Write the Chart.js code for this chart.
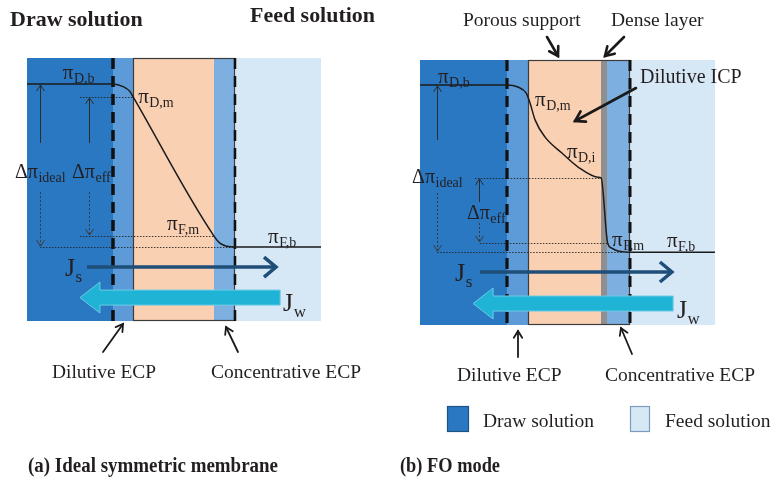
<!DOCTYPE html>
<html>
<head>
<meta charset="utf-8">
<script src="https://cdn.jsdelivr.net/npm/chart.js@4.4.1/dist/chart.umd.min.js"></script>
<style>
  html, body { margin: 0; padding: 0; background: #ffffff; }
  #wrap { position: relative; width: 777px; height: 488px; overflow: hidden; }
  #wrap canvas { position: absolute; top: 0; }
</style>
</head>
<body>
<div id="wrap">
  <canvas id="panelA" width="390" height="488" style="left:0px"></canvas>
  <canvas id="panelB" width="387" height="488" style="left:390px"></canvas>
</div>
<script>
// Position across the cell runs 0..100 (draw side -> feed side),
// osmotic pressure runs 0..100 (arbitrary units).

// ---------- (a) Ideal symmetric membrane ----------
const zonesA = ['draw', 'dilutiveECP', 'membrane', 'concentrativeECP', 'feed'];
const edgesA = [0, 29.3, 36.1, 63.6, 70.7, 100];
const piDbA = 90.1, piDmA = 85.2, piFmA = 32.3, piFbA = 28.1;
const profileXA = [0, 29.3, 32.7, 35.0, 36.1, 63.6, 65.6, 68.0, 70.7, 100];
const profileYA = [piDbA, piDbA, 89.1, 87.3, piDmA, piFmA, 29.6, 28.4, piFbA, piFbA];

// ---------- (b) FO mode (porous support facing the draw solution) ----------
const zonesB = ['draw', 'dilutiveECP', 'support', 'dense', 'concentrativeECP', 'feed'];
const edgesB = [0, 29.5, 36.6, 61.4, 63.4, 71.2, 100];
const piDbB = 90.6, piDmB = 83.8, piDiB = 55.5, piFmB = 31.0, piFbB = 27.5;
const profileXB = [0, 29.5, 33.2, 36.0, 37.3, 39.0, 42.4, 48.1, 53.6, 60.3, 61.4, 63.6, 65.0, 67.1, 70.5, 100];
const profileYB = [piDbB, piDbB, 89.8, 87.5, piDmB, 77.4, 70.9, 64.9, 59.6, 55.8, piDiB, piFmB, 29.0, 27.9, piFbB, piFbB];

// ---------- styling ----------
const SERIF = '"Liberation Serif", "Times New Roman", Times, serif';
const INK = '#231f20';
const COLORS = {
  draw: '#2a78c2',
  dilutiveECP: '#5c9bd8',
  membrane: '#fad0b3',
  support: '#fad0b3',
  dense: '#8f8f8f',
  concentrativeECP: '#7db0e0',
  feed: '#d6e7f5'
};

// ---------- drawing helpers ----------
function line(ctx, x0, y0, x1, y1) {
  ctx.beginPath(); ctx.moveTo(x0, y0); ctx.lineTo(x1, y1); ctx.stroke();
}

function arrow(ctx, x0, y0, x1, y1, head, width, color) {
  const a = Math.atan2(y1 - y0, x1 - x0);
  ctx.save();
  ctx.strokeStyle = color; ctx.lineWidth = width; ctx.lineCap = 'round'; ctx.lineJoin = 'miter';
  ctx.setLineDash([]);
  line(ctx, x0, y0, x1, y1);
  ctx.beginPath();
  ctx.moveTo(x1 - head * Math.cos(a - 0.55), y1 - head * Math.sin(a - 0.55));
  ctx.lineTo(x1, y1);
  ctx.lineTo(x1 - head * Math.cos(a + 0.55), y1 - head * Math.sin(a + 0.55));
  ctx.stroke();
  ctx.restore();
}

function subLabel(ctx, x, y, main, sub, size, subSize, drop) {
  ctx.save();
  ctx.fillStyle = INK; ctx.textBaseline = 'alphabetic'; ctx.textAlign = 'left';
  ctx.font = size + 'px ' + SERIF;
  ctx.fillText(main, x, y);
  const w = ctx.measureText(main).width;
  ctx.font = subSize + 'px ' + SERIF;
  ctx.fillText(sub, x + w + 0.5, y + drop);
  ctx.restore();
}

function text(ctx, t) {
  ctx.save();
  ctx.fillStyle = INK; ctx.textBaseline = 'alphabetic'; ctx.textAlign = 'left';
  ctx.font = t.font + ' ' + SERIF;
  ctx.fillText(t.t, t.x, t.y, t.maxW);
  ctx.restore();
}

// vertical double arrow split around its label
function gapArrow(ctx, x, yTop, yBot, gTop, gBot) {
  ctx.save();
  ctx.lineWidth = 1;
  ctx.strokeStyle = '#2b2b2b';
  ctx.setLineDash([]);
  line(ctx, x, yTop + 1, x, gTop);
  ctx.beginPath(); ctx.moveTo(x - 4, yTop + 7); ctx.lineTo(x, yTop + 1); ctx.lineTo(x + 4, yTop + 7); ctx.stroke();
  ctx.strokeStyle = '#3a3a3a';
  ctx.setLineDash([2, 2]);
  line(ctx, x, gBot, x, yBot - 1);
  ctx.setLineDash([]);
  ctx.beginPath(); ctx.moveTo(x - 4, yBot - 7); ctx.lineTo(x, yBot - 1); ctx.lineTo(x + 4, yBot - 7); ctx.stroke();
  ctx.restore();
}

// ---------- panel layouts ----------
const layoutA = {
  name: 'A',
  zones: zonesA, edges: edgesA,
  padding: { left: 27, right: 69, top: 58, bottom: 167 },
  membrane: [2, 4],
  dashed: [{ edge: 1, width: 3.5 }, { edge: 4, width: 2.5 }],
  guides: [
    { level: piDmA, from: 18.0, to: edgesA[2] },
    { level: piFmA, from: 18.0, to: edgesA[3] },
    { level: piFbA, from: 4.4, to: edgesA[4] }
  ],
  deltas: [
    { x: 4.4, top: piDbA, bottom: piFbA, gap: [67.7, 49.0], sub: 'ideal', lx: -4.1, ly: 54.4 },
    { x: 21.1, top: piDmA, bottom: piFmA, gap: [67.7, 49.0], sub: 'eff', lx: 15.3, ly: 54.4 }
  ],
  piLabels: [
    { sub: 'D,b', u: 12.2, v: 92.0 },
    { sub: 'D,m', u: 37.8, v: 82.9 },
    { sub: 'F,m', u: 47.6, v: 34.6 },
    { sub: 'F,b', u: 82.0, v: 29.7 }
  ],
  js: { from: 20.4, to: 84.7, v: 20.5, lu: 12.9, lv: 17.1 },
  jw: { tip: 18.0, end: 86.1, v: 8.9, lu: 87.1, lv: 3.8 },
  texts: [
    { t: 'Draw solution', x: 10, y: 26, font: 'bold 22px', maxW: 133 },
    { t: 'Feed solution', x: 250, y: 22, font: 'bold 22px', maxW: 125 },
    { t: 'Dilutive ECP', x: 52, y: 378, font: '19.5px', maxW: 104 },
    { t: 'Concentrative ECP', x: 211, y: 378, font: '19.5px', maxW: 150 },
    { t: '(a) Ideal symmetric membrane', x: 28, y: 472, font: 'bold 20px', maxW: 250 }
  ],
  arrows: [
    { x0: 103, y0: 352, x1: 123, y1: 324, head: 8, w: 1.8 },
    { x0: 238, y0: 352, x1: 226, y1: 327, head: 8, w: 1.8 }
  ],
  legend: null
};

const layoutB = {
  name: 'B',
  zones: zonesB, edges: edgesB,
  padding: { left: 30, right: 62, top: 60, bottom: 163 },
  membrane: [2, 5],
  dashed: [{ edge: 1, width: 3.2 }, { edge: 5, width: 3.0 }],
  guides: [
    { level: piDiB, from: 18.6, to: edgesB[3] },
    { level: piFmB, from: 20.3, to: edgesB[4] },
    { level: piFbB, from: 5.8, to: 68.8 }
  ],
  deltas: [
    { x: 5.8, top: piDbB, bottom: piFbB, gap: [69.8, 49.8], sub: 'ideal', lx: -2.7, ly: 53.6 },
    { x: 20.0, top: piDiB, bottom: piFmB, gap: [46.4, 38.5], sub: 'eff', lx: 15.9, ly: 40.0 }
  ],
  piLabels: [
    { sub: 'D,b', u: 6.1, v: 91.3 },
    { sub: 'D,m', u: 39.0, v: 82.6 },
    { sub: 'D,i', u: 49.8, v: 63.0 },
    { sub: 'F,m', u: 65.1, v: 29.8 },
    { sub: 'F,b', u: 83.7, v: 29.4 }
  ],
  js: { from: 20.3, to: 85.4, v: 20.0, lu: 11.9, lv: 16.6 },
  jw: { tip: 18.0, end: 85.8, v: 8.1, lu: 87.1, lv: 2.6 },
  texts: [
    { t: 'Porous support', x: 73, y: 26, font: '19.5px', maxW: 121 },
    { t: 'Dense layer', x: 221, y: 26, font: '19.5px', maxW: 93 },
    { t: 'Dilutive ICP', x: 250, y: 83, font: '20px', maxW: 113 },
    { t: 'Dilutive ECP', x: 67, y: 381, font: '19.5px', maxW: 106 },
    { t: 'Concentrative ECP', x: 215, y: 381, font: '19.5px', maxW: 150 },
    { t: '(b) FO mode', x: 10, y: 472, font: 'bold 20px', maxW: 100 }
  ],
  arrows: [
    { x0: 157, y0: 37, x1: 168, y1: 56, head: 10, w: 2.6 },
    { x0: 234, y0: 37, x1: 215, y1: 56, head: 10, w: 2.6 },
    { x0: 246, y0: 88, x1: 185, y1: 121, head: 11, w: 2.6 },
    { x0: 128, y0: 357, x1: 128, y1: 331, head: 8, w: 1.8 },
    { x0: 242, y0: 354, x1: 231, y1: 328, head: 8, w: 1.8 }
  ],
  legend: [
    { zone: 'draw', label: 'Draw solution', bx: 57, by: 406, bw: 22, bh: 26, edge: '#1d5486', tx: 93, ty: 427 },
    { zone: 'feed', label: 'Feed solution', bx: 240, by: 406, bw: 20, bh: 26, edge: '#7e9cbb', tx: 275, ty: 427 }
  ]
};

// ---------- plugin that paints the cell schematic around the profile ----------
function schematic(L) {
  return {
    id: 'schematic' + L.name,
    beforeDatasetsDraw(chart) {
      const { ctx, chartArea: { top, bottom }, scales: { x, y } } = chart;
      const X = u => x.getPixelForValue(u);
      const Y = v => y.getPixelForValue(v);
      ctx.save();
      // solution / boundary-layer / membrane zones
      L.zones.forEach((z, i) => {
        const x0 = Math.round(X(L.edges[i])), x1 = Math.round(X(L.edges[i + 1]));
        ctx.fillStyle = COLORS[z];
        ctx.fillRect(x0, top, x1 - x0, bottom - top);
      });
      // membrane outline
      const m0 = Math.round(X(L.edges[L.membrane[0]])) + 0.5;
      const m1 = Math.round(X(L.edges[L.membrane[1]])) - 0.5;
      ctx.strokeStyle = '#3c3c3c'; ctx.lineWidth = 1.2;
      ctx.strokeRect(m0, top + 0.5, m1 - m0, bottom - top - 1);
      // dotted pressure guides
      ctx.strokeStyle = 'rgba(30,30,30,0.85)'; ctx.lineWidth = 1;
      ctx.setLineDash([1.5, 1.5]);
      L.guides.forEach(g => {
        const yy = Math.round(Y(g.level)) + 0.5;
        line(ctx, X(g.from), yy, X(g.to), yy);
      });
      // boundary-layer limits
      ctx.strokeStyle = '#111111';
      ctx.setLineDash([11, 7]);
      L.dashed.forEach(d => {
        ctx.lineWidth = d.width;
        const xx = Math.round(X(L.edges[d.edge]));
        line(ctx, xx, top, xx, bottom);
      });
      ctx.restore();
    },
    afterDatasetsDraw(chart) {
      const { ctx, scales: { x, y } } = chart;
      const X = u => x.getPixelForValue(u);
      const Y = v => y.getPixelForValue(v);
      // driving-force arrows
      L.deltas.forEach(d => {
        gapArrow(ctx, Math.round(X(d.x)) + 0.5, Y(d.top), Y(d.bottom), Y(d.gap[0]), Y(d.gap[1]));
        subLabel(ctx, X(d.lx), Y(d.ly), '\u0394\u03C0', d.sub, 20, 14, 4);
      });
      // osmotic pressure labels
      L.piLabels.forEach(p => subLabel(ctx, X(p.u), Y(p.v), '\u03C0', p.sub, 21, 14, 4));
      // solute flux Js
      const js = L.js;
      ctx.save();
      ctx.strokeStyle = '#1f4e79'; ctx.lineWidth = 3.5; ctx.lineCap = 'butt'; ctx.lineJoin = 'miter';
      const yj = Y(js.v), xe = X(js.to);
      line(ctx, X(js.from), yj, xe - 2, yj);
      ctx.beginPath(); ctx.moveTo(xe - 12, yj - 10); ctx.lineTo(xe, yj); ctx.lineTo(xe - 12, yj + 10); ctx.stroke();
      ctx.restore();
      subLabel(ctx, X(js.lu), Y(js.lv), 'J', 's', 26, 17, 6);
      // water flux Jw
      const jw = L.jw;
      const yc = Y(jw.v), xt = X(jw.tip), xh = xt + 20, xend = X(jw.end);
      ctx.save();
      ctx.beginPath();
      ctx.moveTo(xt, yc);
      ctx.lineTo(xh, yc - 15.5); ctx.lineTo(xh, yc - 7.5);
      ctx.lineTo(xend, yc - 7.5); ctx.lineTo(xend, yc + 7.5);
      ctx.lineTo(xh, yc + 7.5); ctx.lineTo(xh, yc + 15.5);
      ctx.closePath();
      ctx.fillStyle = '#1fb3d6'; ctx.fill();
      ctx.strokeStyle = '#6ccbe4'; ctx.lineWidth = 1; ctx.stroke();
      ctx.restore();
      subLabel(ctx, X(jw.lu), Y(jw.lv), 'J', 'w', 26, 17, 6);
    },
    afterDraw(chart) {
      const { ctx } = chart;
      L.texts.forEach(t => text(ctx, t));
      L.arrows.forEach(a => arrow(ctx, a.x0, a.y0, a.x1, a.y1, a.head, a.w, '#1a1a1a'));
      if (L.legend) {
        L.legend.forEach(it => {
          ctx.save();
          ctx.fillStyle = COLORS[it.zone];
          ctx.fillRect(it.bx, it.by, it.bw, it.bh);
          ctx.strokeStyle = it.edge; ctx.lineWidth = 1.2;
          ctx.strokeRect(it.bx + 0.5, it.by + 0.5, it.bw - 1, it.bh - 1);
          ctx.restore();
          text(ctx, { t: it.label, x: it.tx, y: it.ty, font: '19.5px', maxW: 115 });
        });
      }
    }
  };
}

function makePanel(id, L, xs, ys) {
  return new Chart(document.getElementById(id), {
    type: 'line',
    data: {
      datasets: [{
        data: xs.map((v, i) => ({ x: v, y: ys[i] })),
        borderColor: '#1b1b1b',
        borderWidth: 1.5,
        pointRadius: 0,
        fill: false,
        cubicInterpolationMode: 'monotone'
      }]
    },
    options: {
      responsive: false,
      animation: false,
      devicePixelRatio: 1,
      events: [],
      layout: { padding: L.padding },
      plugins: { legend: { display: false }, tooltip: { enabled: false }, title: { display: false } },
      scales: {
        x: { type: 'linear', min: 0, max: 100, display: false },
        y: { type: 'linear', min: 0, max: 100, display: false }
      }
    },
    plugins: [schematic(L)]
  });
}

makePanel('panelA', layoutA, profileXA, profileYA);
makePanel('panelB', layoutB, profileXB, profileYB);
</script>
</body>
</html>
